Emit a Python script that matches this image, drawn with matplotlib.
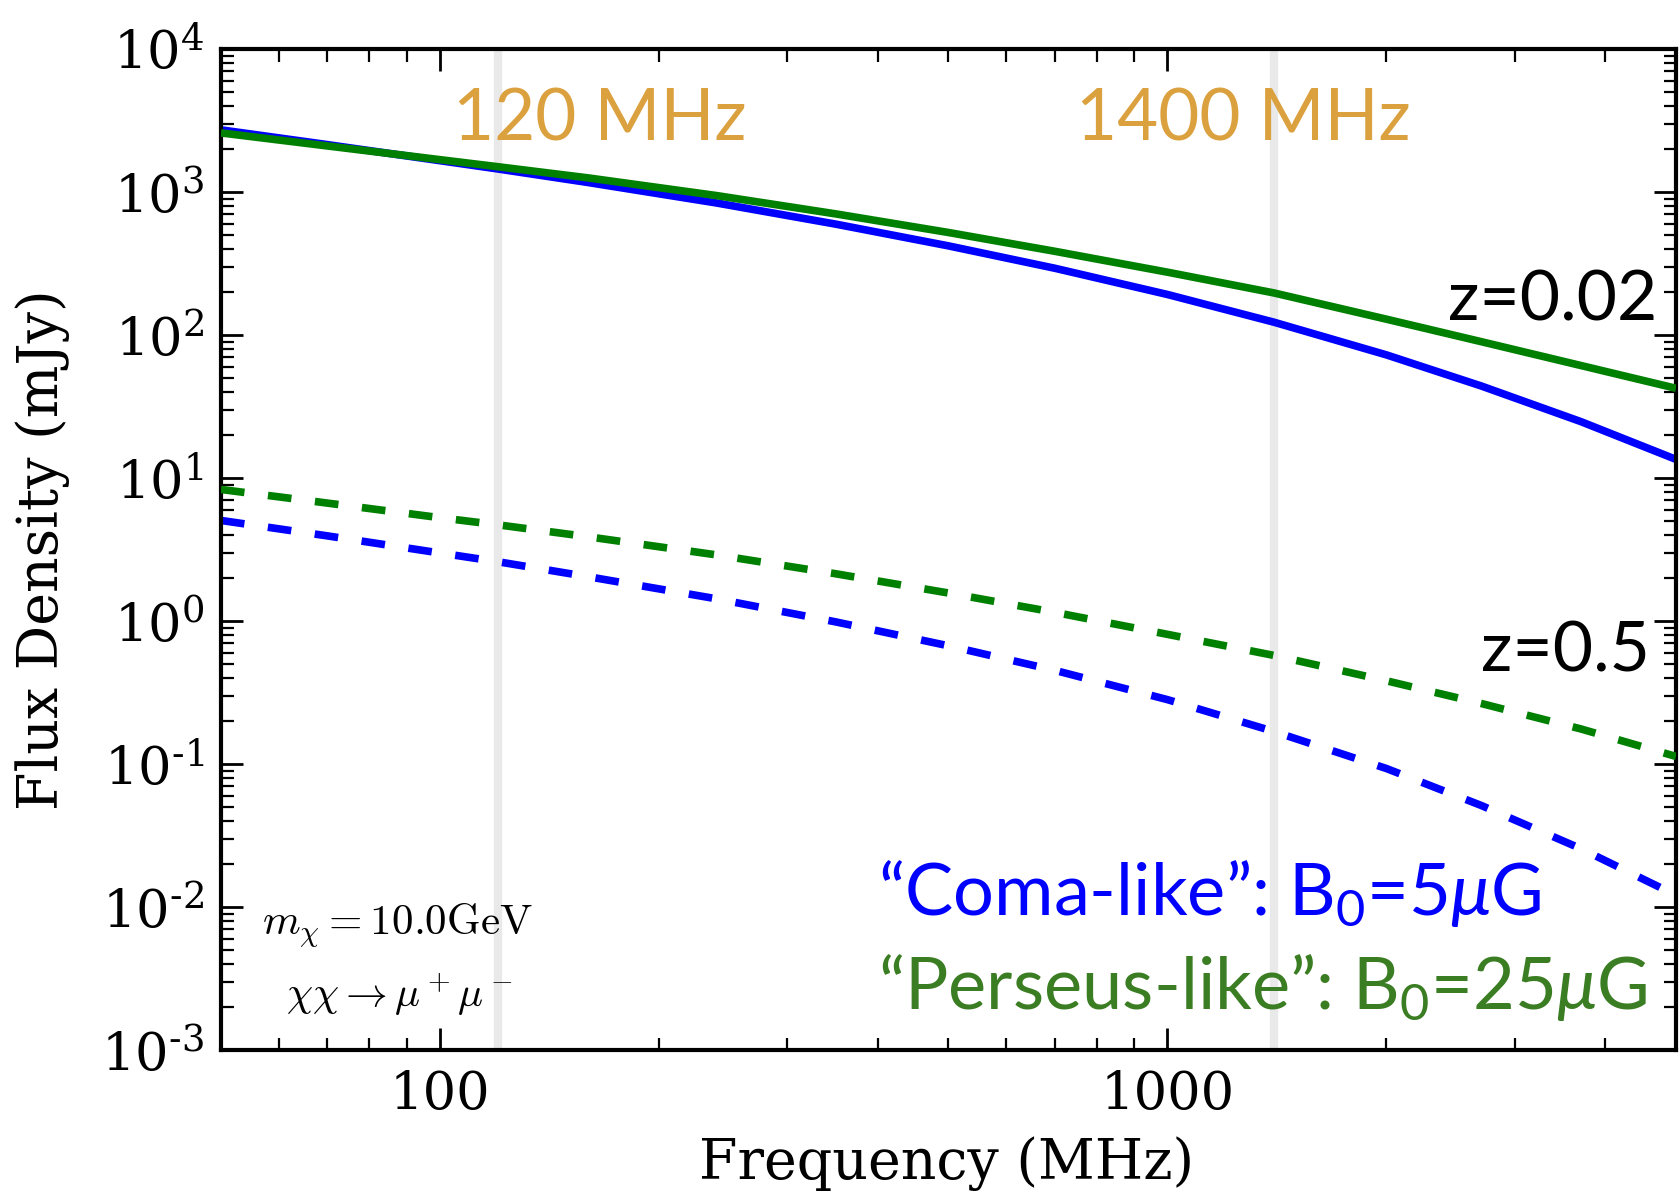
import math
import matplotlib
matplotlib.use("Agg")
import matplotlib.pyplot as plt
from matplotlib.ticker import FixedLocator, LogLocator, FuncFormatter, NullFormatter

# ---- data ----
freq_mhz = [50, 70, 100, 120, 160, 240, 350, 500, 700, 1000, 1400, 2000, 2700, 3700, 5000]
coma_z002 = [2720, 2145, 1656, 1450, 1164, 838, 596, 420, 293, 192, 123, 72.6, 44.0, 24.8, 13.5]
perseus_z002 = [2590, 2100, 1683, 1503, 1254, 944, 703, 521, 385, 275, 197, 129, 89.8, 61.2, 42.4]
coma_z05 = [5.05, 3.94, 2.99, 2.60, 2.04, 1.43, 0.986, 0.671, 0.452, 0.282, 0.169, 0.093, 0.0513, 0.0256, 0.0121]
perseus_z05 = [8.32, 6.68, 5.28, 4.71, 3.88, 2.90, 2.14, 1.57, 1.15, 0.807, 0.575, 0.382, 0.265, 0.176, 0.113]
marker_freqs = [120, 1400]
marker_labels = ["120 MHz", "1400 MHz"]
x_ticks = [100, 1000]
x_tick_labels = ["100", "1000"]

plt.rcParams["axes.unicode_minus"] = False
plt.rcParams["mathtext.rm"] = "Lato"
plt.rcParams["mathtext.it"] = "Lato:italic"
plt.rcParams["mathtext.bf"] = "Lato:bold"
plt.rcParams["mathtext.sf"] = "Lato"

fig = plt.figure(figsize=(16.79, 11.95), dpi=100)
ax = fig.add_axes([0.1316, 0.1213, 0.8666, 0.8377])

for f in marker_freqs:
    ax.axvline(f, color="#e9e9e9", lw=6.0, zorder=0)

lw = 5.5
ax.plot(freq_mhz, coma_z002, color="#0000ff", lw=lw, solid_capstyle="butt", zorder=2)
ax.plot(freq_mhz, perseus_z002, color="#008000", lw=lw, solid_capstyle="butt", zorder=3)
ax.plot(freq_mhz, coma_z05, color="#0000ff", lw=lw, dashes=(3.1, 3.1), dash_capstyle="butt", zorder=2)
ax.plot(freq_mhz, perseus_z05, color="#008000", lw=lw, dashes=(3.1, 3.1), dash_capstyle="butt", zorder=3)

ax.set_xscale("log")
ax.set_yscale("log")
ax.set_xlim(50, 5000)
ax.set_ylim(1e-3, 1e4)

for s in ax.spines.values():
    s.set_linewidth(3.0)

ax.xaxis.set_major_locator(FixedLocator(x_ticks))
ax.xaxis.set_major_formatter(FuncFormatter(
    lambda v, p: x_tick_labels[x_ticks.index(int(round(v)))] if int(round(v)) in x_ticks else ""))
ax.xaxis.set_minor_locator(LogLocator(base=10, subs=range(2, 10), numticks=20))
ax.xaxis.set_minor_formatter(NullFormatter())
ax.yaxis.set_major_locator(LogLocator(base=10, numticks=20))
ax.yaxis.set_minor_locator(LogLocator(base=10, subs=range(2, 10), numticks=20))
ax.yaxis.set_minor_formatter(NullFormatter())

def yfmt(v, p):
    e = int(round(math.log10(v)))
    s = str(e).replace("-", "\u2010")
    return r"$\mathdefault{10^{%s}}$" % s
ax.yaxis.set_major_formatter(FuncFormatter(yfmt))

ax.tick_params(which="both", direction="in", top=True, right=True)
ax.tick_params(which="major", length=16, width=2.0)
ax.tick_params(which="minor", length=9, width=1.6)
ax.tick_params(axis="x", which="major", pad=14)
ax.tick_params(axis="y", which="major", pad=12)
for lab in ax.get_xticklabels() + ax.get_yticklabels():
    lab.set_fontfamily("DejaVu Serif")
    lab.set_fontsize(38)

ax.set_xlabel("Frequency (MHz)", fontfamily="DejaVu Serif", fontsize=40)
ax.set_ylabel("Flux Density (mJy)", fontfamily="DejaVu Serif", fontsize=40)
ax.xaxis.set_label_coords(0.499, -0.086)
ax.yaxis.set_label_coords(-0.104, 0.5)

orange = "#DBA13E"
ax.text(0.2605, 0.909, marker_labels[0], transform=ax.transAxes, ha="center", va="baseline",
        fontfamily="Lato", fontsize=51, color=orange)
ax.text(0.7027, 0.909, marker_labels[1], transform=ax.transAxes, ha="center", va="baseline",
        fontfamily="Lato", fontsize=51, color=orange)

ax.text(0.987, 0.729, "z=0.02", transform=ax.transAxes, ha="right", va="baseline",
        fontfamily="Lato", fontsize=50, color="black")
ax.text(0.982, 0.378, "z=0.5", transform=ax.transAxes, ha="right", va="baseline",
        fontfamily="Lato", fontsize=50, color="black")

ax.text(0.4515, 0.135, "\u201cComa-like\u201d: B$_0$=5$\\mu$G", transform=ax.transAxes,
        ha="left", va="baseline", fontfamily="Lato", fontsize=52, color="#0000ff",
        math_fontfamily="custom")
ax.text(0.4515, 0.041, "\u201cPerseus-like\u201d: B$_0$=25$\\mu$G", transform=ax.transAxes,
        ha="left", va="baseline", fontfamily="Lato", fontsize=52, color="#3A7D22",
        math_fontfamily="custom")

ax.text(0.121, 0.115, r"$m_\chi = 10.0\mathrm{GeV}$", transform=ax.transAxes,
        ha="center", va="baseline", fontsize=31, math_fontfamily="cm")
ax.text(0.123, 0.043, r"$\chi\chi \rightarrow \mu^+\mu^-$", transform=ax.transAxes,
        ha="center", va="baseline", fontsize=30, math_fontfamily="cm")

fig.savefig("out.png", dpi=100)
